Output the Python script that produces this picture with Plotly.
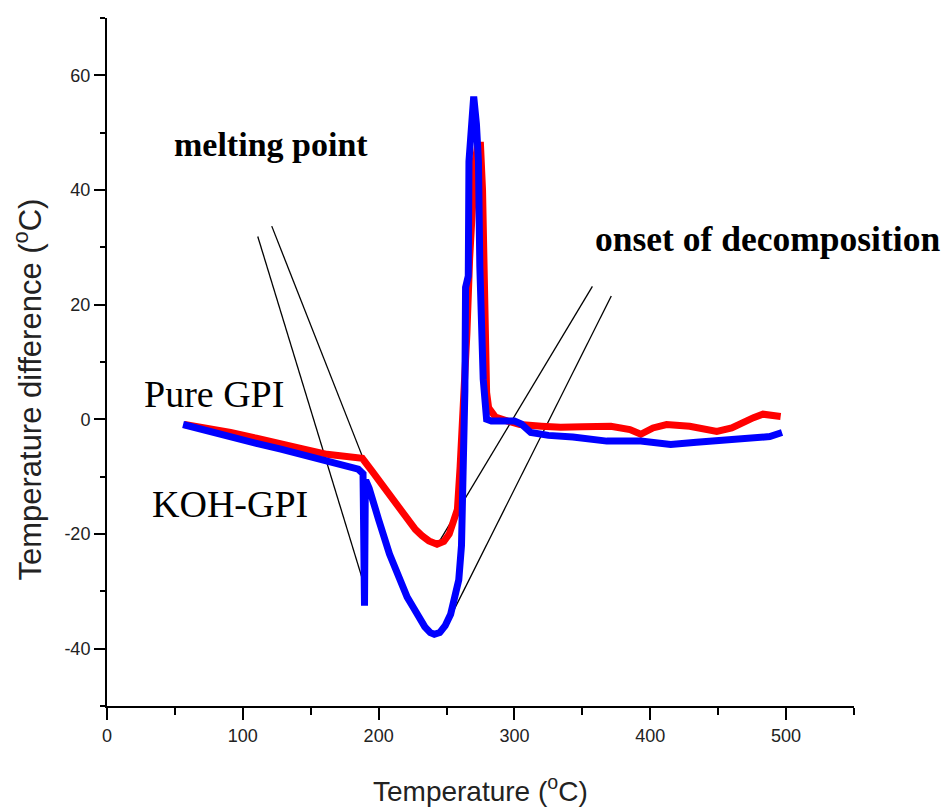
import plotly.graph_objects as go

# ---- data ----
pure_x = [57, 70, 91, 110, 128, 145, 162, 175, 185, 188, 195, 200, 208, 216, 222, 227, 232, 237, 243, 248,
          252, 255, 258, 260, 262, 263.5, 265, 267, 269, 271, 273, 275, 276.5, 277.5, 278.5, 279.5, 281,
          283, 286, 295, 304, 320, 334, 350, 371, 385, 393, 402, 412, 429, 449, 460, 468, 476, 483, 490, 496]
pure_y = [-0.9, -1.4, -2.3, -3.3, -4.4, -5.2, -6.1, -6.5, -7.0, -6.8, -9, -10.6, -13.2, -15.7, -17.7,
          -19.2, -20.3, -21.2, -21.8, -21.3, -20, -18, -15.7, -8.2, 0, 6.5, 15, 28, 40, 45, 47.8, 47.8, 40,
          24, 12, 4.7, 2, 1.2, 0.4, -0.3, -0.9, -1.2, -1.4, -1.3, -1.2, -1.8, -2.6, -1.5, -0.9, -1.2, -2.1,
          -1.5, -0.5, 0.3, 0.9, 0.8, 0.5]

koh_x = [56, 70, 91, 110, 128, 145, 162, 175, 185, 188.5, 189.6, 190.2, 191.2, 193, 196, 200, 208, 216,
         221, 226, 230, 234, 238, 241, 245, 249, 253, 256, 259, 261, 262.5, 263.5, 264, 266, 266.5, 268,
         270, 272, 273.5, 274.5, 276, 277, 279.5, 283, 300, 305, 312, 325, 343, 368, 393, 415, 434,
         461, 480, 488, 497]
koh_y = [-0.9, -1.8, -3.2, -4.2, -5.2, -6.3, -7.3, -8.0, -8.7, -9.5, -32.5, -11, -11, -12, -14,
         -17.5, -23.5, -28.5, -31, -33, -34.8, -36.2, -37.2, -37.5, -37.2, -36, -34, -31.5, -28, -22, -10,
         5, 23, 25, 45, 52, 56.3, 51.5, 45, 26.7, 15, 7, 0, -0.3, -0.3, -0.8, -2.3, -2.8, -3.1, -3.8,
         -3.8, -4.4, -4, -3.5, -3.2, -3, -2.3]

# tangent construction lines (endpoints)
tangent_x = [[111.0, 190.4], [121.3, 190.4], [243.4, 357.4], [247.1, 371.3]]
tangent_y = [[31.9, -29.7], [33.7, -7.9], [-21.8, 23.2], [-37.2, 21.5]]

x_tickvals = [0, 100, 200, 300, 400, 500]
y_tickvals = [-40, -20, 0, 20, 40, 60]

fig = go.Figure()

for tx, ty in zip(tangent_x, tangent_y):
    fig.add_trace(go.Scatter(x=tx, y=ty, mode="lines",
                             line=dict(color="black", width=1.3),
                             showlegend=False, hoverinfo="skip"))

fig.add_trace(go.Scatter(x=pure_x, y=pure_y, mode="lines", name="Pure GPI",
                         line=dict(color="#ff0000", width=7), showlegend=False))
fig.add_trace(go.Scatter(x=koh_x, y=koh_y, mode="lines", name="KOH-GPI",
                         line=dict(color="#0000ff", width=7), showlegend=False))

serif = "Liberation Serif, Times New Roman, serif"
fig.add_annotation(x=47.5, y=48, text="<b>melting point</b>", showarrow=False,
                   xanchor="left", yanchor="middle", font=dict(family=serif, size=34, color="black"))
fig.add_annotation(x=358.0, y=31.5, text="<b>onset of decomposition</b>", showarrow=False,
                   xanchor="left", yanchor="middle", font=dict(family=serif, size=35.5, color="black"))
fig.add_annotation(x=25.5, y=4.4, text="Pure GPI", showarrow=False,
                   xanchor="left", yanchor="middle", font=dict(family=serif, size=38, color="black"))
fig.add_annotation(x=31.5, y=-14.8, text="KOH-GPI", showarrow=False,
                   xanchor="left", yanchor="middle", font=dict(family=serif, size=38, color="black"))

sans = "Liberation Sans, Arial, sans-serif"
# axis titles placed as paper annotations to match the reference positions
fig.add_annotation(x=-0.107, y=0.46, xref="paper", yref="paper",
                   text="Temperature difference (<sup>o</sup>C)", textangle=-90, showarrow=False,
                   xanchor="center", yanchor="middle", font=dict(family=sans, size=31, color="#222"))
fig.add_annotation(x=0.5, y=-0.121, xref="paper", yref="paper",
                   text="Temperature (<sup>o</sup>C)", showarrow=False,
                   xanchor="center", yanchor="middle", font=dict(family=sans, size=28, color="#222"))

fig.update_layout(
    width=945, height=808,
    margin=dict(l=107, r=91, t=18, b=102),
    paper_bgcolor="white", plot_bgcolor="white",
    font=dict(family=sans, color="#222"),
)
fig.update_xaxes(
    range=[0, 550], showgrid=False, zeroline=False, automargin=False,
    showline=True, linecolor="black", linewidth=2,
    ticks="outside", ticklen=12, tickwidth=1.5, tickcolor="black",
    tickvals=x_tickvals, ticktext=[str(v) for v in x_tickvals],
    tickfont=dict(family=sans, size=18, color="#222"),
    minor=dict(dtick=50, tick0=0, ticks="outside", ticklen=7, tickwidth=1.5, tickcolor="black", showgrid=False),
)
fig.update_yaxes(
    range=[-50, 70], showgrid=False, zeroline=False, automargin=False,
    showline=True, linecolor="black", linewidth=2,
    ticks="outside", ticklen=11, tickwidth=1.5, tickcolor="black",
    tickvals=y_tickvals, ticktext=[str(v) for v in y_tickvals],
    tickfont=dict(family=sans, size=18, color="#222"),
    minor=dict(dtick=10, tick0=0, ticks="outside", ticklen=5, tickwidth=1.5, tickcolor="black", showgrid=False),
)

fig.write_html("out.html")
